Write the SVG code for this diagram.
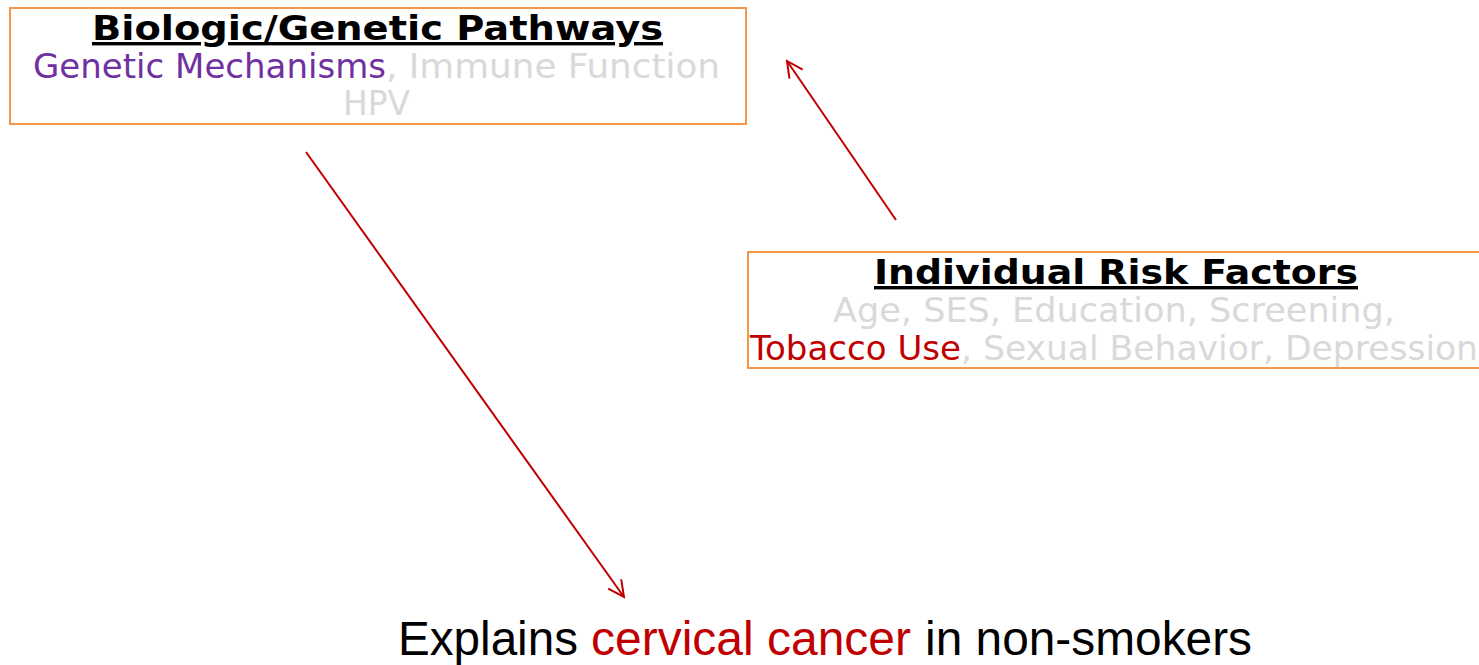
<svg xmlns="http://www.w3.org/2000/svg" width="1479" height="665" viewBox="0 0 1479 665">
  <style>
    .box { fill: #ffffff; stroke: #F79646; stroke-width: 2; }
    .title { font-family: "DejaVu Sans", Verdana, sans-serif; font-weight: bold; font-size: 34px; fill: #000000; text-decoration: underline; }
    .body { font-family: "DejaVu Sans", Verdana, sans-serif; font-size: 33px; fill: #D9D9D9; }
    .purple { fill: #7030A0; }
    .red { fill: #C00000; }
    .caption { font-family: "Liberation Sans", Arial, sans-serif; font-size: 48px; fill: #000000; }
    .link { stroke: #C00000; stroke-width: 2; fill: none; marker-end: url(#open); }
  </style>
  <defs>
    <marker id="open" viewBox="0 0 20 20" refX="18" refY="10" markerWidth="20" markerHeight="20" markerUnits="userSpaceOnUse" orient="auto">
      <path d="M2,2 L18,10 L2,18" fill="none" stroke="#C00000" stroke-width="2"/>
    </marker>
  </defs>

  <g id="biologic-genetic">
    <rect class="box" x="10" y="8" width="736" height="116"/>
    <text class="title" x="92" y="40" textLength="571" lengthAdjust="spacingAndGlyphs">Biologic/Genetic Pathways</text>
    <text class="body" y="78">
      <tspan class="purple" x="33" textLength="353" lengthAdjust="spacingAndGlyphs">Genetic Mechanisms</tspan><tspan x="386" textLength="334" lengthAdjust="spacingAndGlyphs">, Immune Function</tspan>
    </text>
    <text class="body" x="343" y="115" textLength="67" lengthAdjust="spacingAndGlyphs">HPV</text>
  </g>

  <g id="individual-risk">
    <rect class="box" x="748" y="252" width="740" height="116"/>
    <text class="title" x="874" y="284" textLength="484" lengthAdjust="spacingAndGlyphs">Individual Risk Factors</text>
    <text class="body" x="833" y="322" textLength="562" lengthAdjust="spacingAndGlyphs">Age, SES, Education, Screening,</text>
    <text class="body" y="360">
      <tspan class="red" x="750" textLength="211" lengthAdjust="spacingAndGlyphs">Tobacco Use</tspan><tspan x="961" textLength="517" lengthAdjust="spacingAndGlyphs">, Sexual Behavior, Depression</tspan>
    </text>
  </g>

  <g id="outcome">
    <text class="caption" y="655">
      <tspan x="398" textLength="180" lengthAdjust="spacingAndGlyphs">Explains</tspan><tspan class="red" x="591" textLength="320" lengthAdjust="spacingAndGlyphs">cervical  cancer</tspan><tspan x="925" textLength="327" lengthAdjust="spacingAndGlyphs">in non-smokers</tspan>
    </text>
  </g>

  <g id="connectors">
    <line class="link" x1="306" y1="152" x2="624" y2="597"/>
    <line class="link" x1="896" y1="220" x2="787" y2="61"/>
  </g>
</svg>
